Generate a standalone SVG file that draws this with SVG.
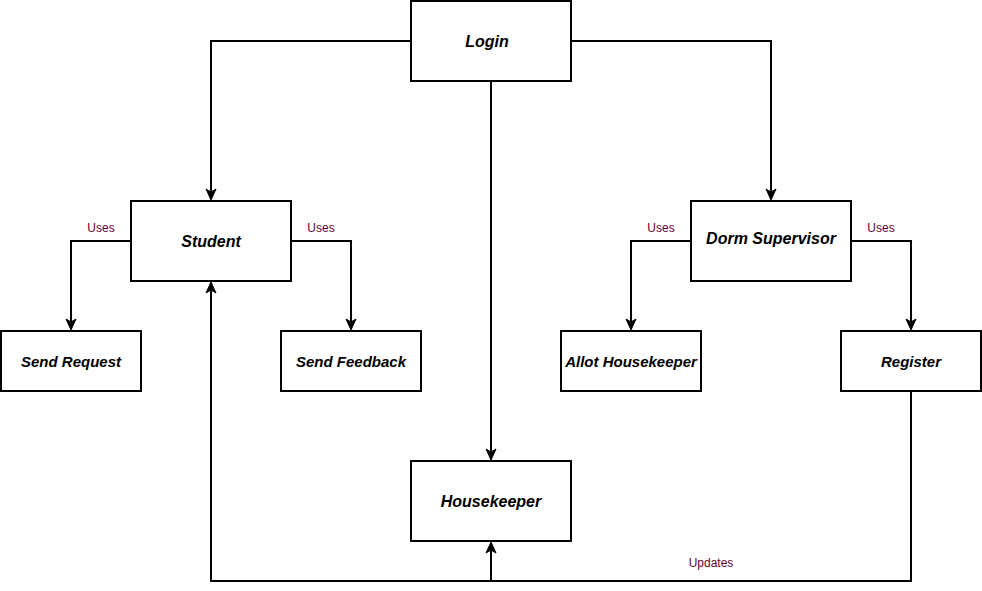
<svg xmlns="http://www.w3.org/2000/svg" width="982" height="591" viewBox="0 0 982 591">
<defs>
<marker id="arr" markerWidth="14" markerHeight="14" refX="11" refY="7" orient="auto" markerUnits="userSpaceOnUse">
<path d="M1,2 L12,7 L1,12 L4,7 Z" fill="#000" stroke="#000" stroke-width="1"/>
</marker>
</defs>
<style>
.box{fill:#fff;stroke:#000;stroke-width:2}
.t{font-family:"Liberation Sans",Arial,sans-serif;font-weight:bold;font-style:italic;font-size:16px;text-anchor:middle;dominant-baseline:central;fill:#000}
.s{font-size:15px}
.c{fill:none;stroke:#000;stroke-width:2}
.l{font-family:"Liberation Sans",Arial,sans-serif;font-size:12px;fill:#660033;text-anchor:middle;dominant-baseline:central}
</style>
<rect width="982" height="591" fill="#fff"/>
<g id="connectors">
<path class="c" d="M411,41 H211 V199" marker-end="url(#arr)"/>
<path class="c" d="M571,41 H771 V199" marker-end="url(#arr)"/>
<path class="c" d="M491,81 V459" marker-end="url(#arr)"/>
<path class="c" d="M131,241 H71 V329" marker-end="url(#arr)"/>
<path class="c" d="M291,241 H351 V329" marker-end="url(#arr)"/>
<path class="c" d="M691,241 H631 V329" marker-end="url(#arr)"/>
<path class="c" d="M851,241 H911 V329" marker-end="url(#arr)"/>
<path class="c" d="M911,391 V581 H211 V283" marker-end="url(#arr)"/>
<path class="c" d="M491,581 V543" marker-end="url(#arr)"/>
<text class="l" x="101" y="228">Uses</text>
<text class="l" x="321" y="228">Uses</text>
<text class="l" x="661" y="228">Uses</text>
<text class="l" x="881" y="228">Uses</text>
<text class="l" x="711" y="563">Updates</text>
</g>
<g id="login"><rect class="box" x="411" y="1" width="160" height="80"/><text class="t" x="487" y="41">Login</text></g>
<g id="student"><rect class="box" x="131" y="201" width="160" height="80"/><text class="t" x="211" y="241">Student</text></g>
<g id="dorm-supervisor"><rect class="box" x="691" y="201" width="160" height="80"/><text class="t" x="771" y="238">Dorm Supervisor</text></g>
<g id="send-request"><rect class="box" x="1" y="331" width="140" height="60"/><text class="t s" x="71" y="361">Send Request</text></g>
<g id="send-feedback"><rect class="box" x="281" y="331" width="140" height="60"/><text class="t s" x="351" y="361">Send Feedback</text></g>
<g id="allot-housekeeper"><rect class="box" x="561" y="331" width="140" height="60"/><text class="t s" x="631" y="361">Allot Housekeeper</text></g>
<g id="register"><rect class="box" x="841" y="331" width="140" height="60"/><text class="t s" x="911" y="361">Register</text></g>
<g id="housekeeper"><rect class="box" x="411" y="461" width="160" height="80"/><text class="t" x="491" y="501">Housekeeper</text></g>
</svg>
